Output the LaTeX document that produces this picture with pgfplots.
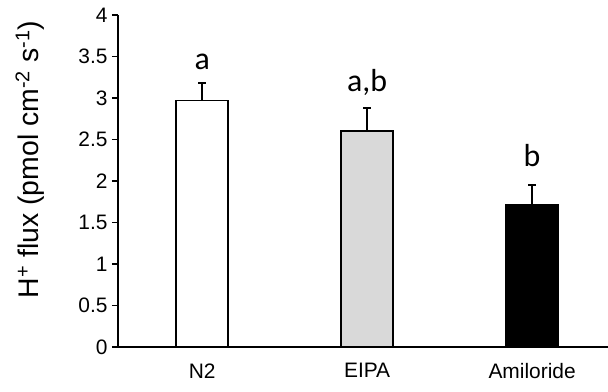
\documentclass[border=0pt]{standalone}
\usepackage{fontspec}
\setmainfont{Liberation Sans}
\newfontfamily\calibri{Carlito}
\usepackage{pgfplots}
\pgfplotsset{compat=1.18}
\definecolor{eipagray}{HTML}{D9D9D9}
\begin{document}
\begin{tikzpicture}
\path[use as bounding box] (-118bp,-45bp) rectangle (490bp,347bp);
\begin{axis}[
  scale only axis, width=490bp, height=332bp,
  xmin=-0.51, xmax=2.46, ymin=0, ymax=4,
  axis lines=left,
  axis line style={line width=1.5bp, -},
  xtick={0,1,2}, xticklabels={N2,EIPA,Amiloride},
  ytick={0,0.5,1,1.5,2,2.5,3,3.5,4},
  x tick style={draw=none},
  y tick style={line width=1.5bp, black},
  tick align=outside, major tick length=6bp,
  /pgf/number format/assume math mode=true,
  yticklabel style={font=\fontsize{21}{25}\selectfont, xshift=-1bp},
  xticklabel style={font=\fontsize{21}{25}\selectfont, yshift=-7bp},
  ylabel={H\textsuperscript{+} flux (pmol cm\textsuperscript{-2} s\textsuperscript{-1})},
  ylabel style={font=\fontsize{28.5}{32}\selectfont, at={(axis description cs:-0.18,0.565)}, anchor=center},
  clip=false,
]
\addplot[ybar, bar width=52bp, bar shift=0pt, draw=black, line width=1.5bp, fill=white,
  error bars/.cd, y dir=plus, y explicit,
  error bar style={line width=1.5bp, black},
  error mark options={rotate=90, mark size=4bp, line width=1.5bp, black}]
  coordinates {(0,2.97) +- (0,0.21)};
\addplot[ybar, bar width=52bp, bar shift=0pt, draw=black, line width=1.5bp, fill=eipagray,
  error bars/.cd, y dir=plus, y explicit,
  error bar style={line width=1.5bp, black},
  error mark options={rotate=90, mark size=4bp, line width=1.5bp, black}]
  coordinates {(1,2.60) +- (0,0.28)};
\addplot[ybar, bar width=52bp, bar shift=0pt, draw=black, line width=1.5bp, fill=black,
  error bars/.cd, y dir=plus, y explicit,
  error bar style={line width=1.5bp, black},
  error mark options={rotate=90, mark size=4bp, line width=1.5bp, black}]
  coordinates {(2,1.71) +- (0,0.24)};
\node[font=\calibri\fontsize{32}{36}\selectfont, anchor=base] at (axis cs:0,3.34) {a};
\node[font=\calibri\fontsize{32}{36}\selectfont, anchor=base] at (axis cs:1,3.08) {a,b};
\node[font=\calibri\fontsize{32}{36}\selectfont, anchor=base] at (axis cs:2,2.18) {b};
\end{axis}
\end{tikzpicture}
\end{document}
